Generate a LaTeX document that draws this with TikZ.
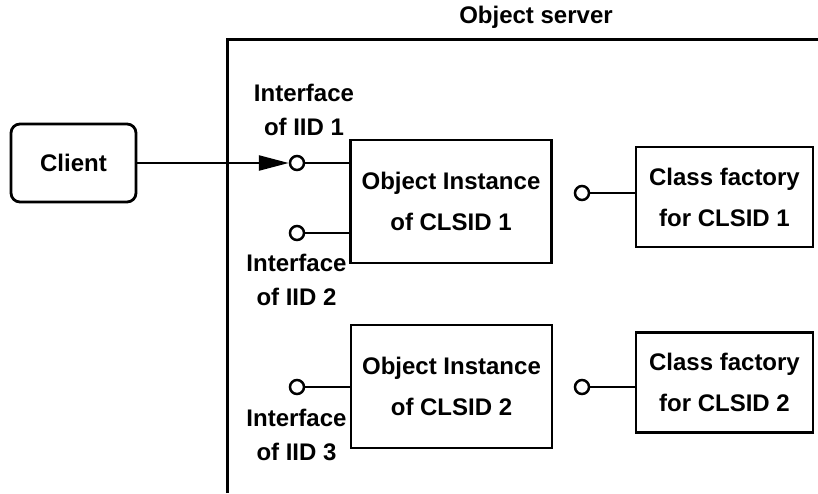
\documentclass[tikz,border=0pt]{standalone}
\usepackage{fontspec}
\setmainfont{Liberation Sans}
\usetikzlibrary{arrows.meta}
\tikzset{
  lbl/.style={font=\bfseries\fontsize{24}{34}\selectfont, align=center, inner sep=0pt},
  boxtxt/.style={font=\bfseries\fontsize{24}{41}\selectfont, align=center, inner sep=0pt},
  objbox/.style={boxtxt, draw, line width=2.8pt, minimum width=201pt, minimum height=123pt},
  cfbox/.style={boxtxt, draw, line width=2.8pt, minimum width=177pt, minimum height=100pt},
  iface/.style={circle, draw, line width=2.5pt, minimum size=14pt, inner sep=0pt, fill=white},
  wire/.style={line width=2.5pt},
}
\begin{document}
\begin{tikzpicture}[x=1pt, y=-1pt]
\useasboundingbox (0,0) rectangle (818,493);
% object server frame
\coordinate (sbl) at (227,493);
\coordinate (stl) at (227,39);
\coordinate (str) at (818,39);
\draw[line width=3pt] (sbl) -- (stl) -- (str);
\node[lbl] (title) at (536,17) {Object server};
% client
\node[boxtxt, draw, line width=2.8pt, rounded corners=9pt, minimum width=125pt, minimum height=78pt] (client) at (73.5,163) {Client};
% object instances
\node[objbox] (ob1) at (451,201.5) {Object Instance\\of CLSID 1};
\node[objbox] (ob2) at (451.5,386.5) {Object Instance\\of CLSID 2};
% class factories
\node[cfbox] (cf1) at (724.5,197) {Class factory\\for CLSID 1};
\node[cfbox] (cf2) at (724.5,382.5) {Class factory\\for CLSID 2};
% interfaces
\node[iface] (c1) at (297,163) {};
\node[iface] (c2) at (297,233) {};
\node[iface] (c3) at (297,387) {};
\node[iface] (c4) at (582,193) {};
\node[iface] (c5) at (582,387) {};
% labels
\node[lbl] (l1) at (304,110) {Interface\\of IID 1};
\node[lbl] (l2) at (296.5,280) {Interface\\of IID 2};
\node[lbl] (l3) at (296.5,435) {Interface\\of IID 3};
% connectors
\draw[wire, -{Triangle[length=30pt,width=15pt]}] (client.east) -- (c1.west);
\draw[wire] (c1.east) -- (c1.east -| ob1.west);
\draw[wire] (c2.east) -- (c2.east -| ob1.west);
\draw[wire] (c3.east) -- (c3.east -| ob2.west);
\draw[wire] (c4.east) -- (c4.east -| cf1.west);
\draw[wire] (c5.east) -- (c5.east -| cf2.west);
\end{tikzpicture}
\end{document}
